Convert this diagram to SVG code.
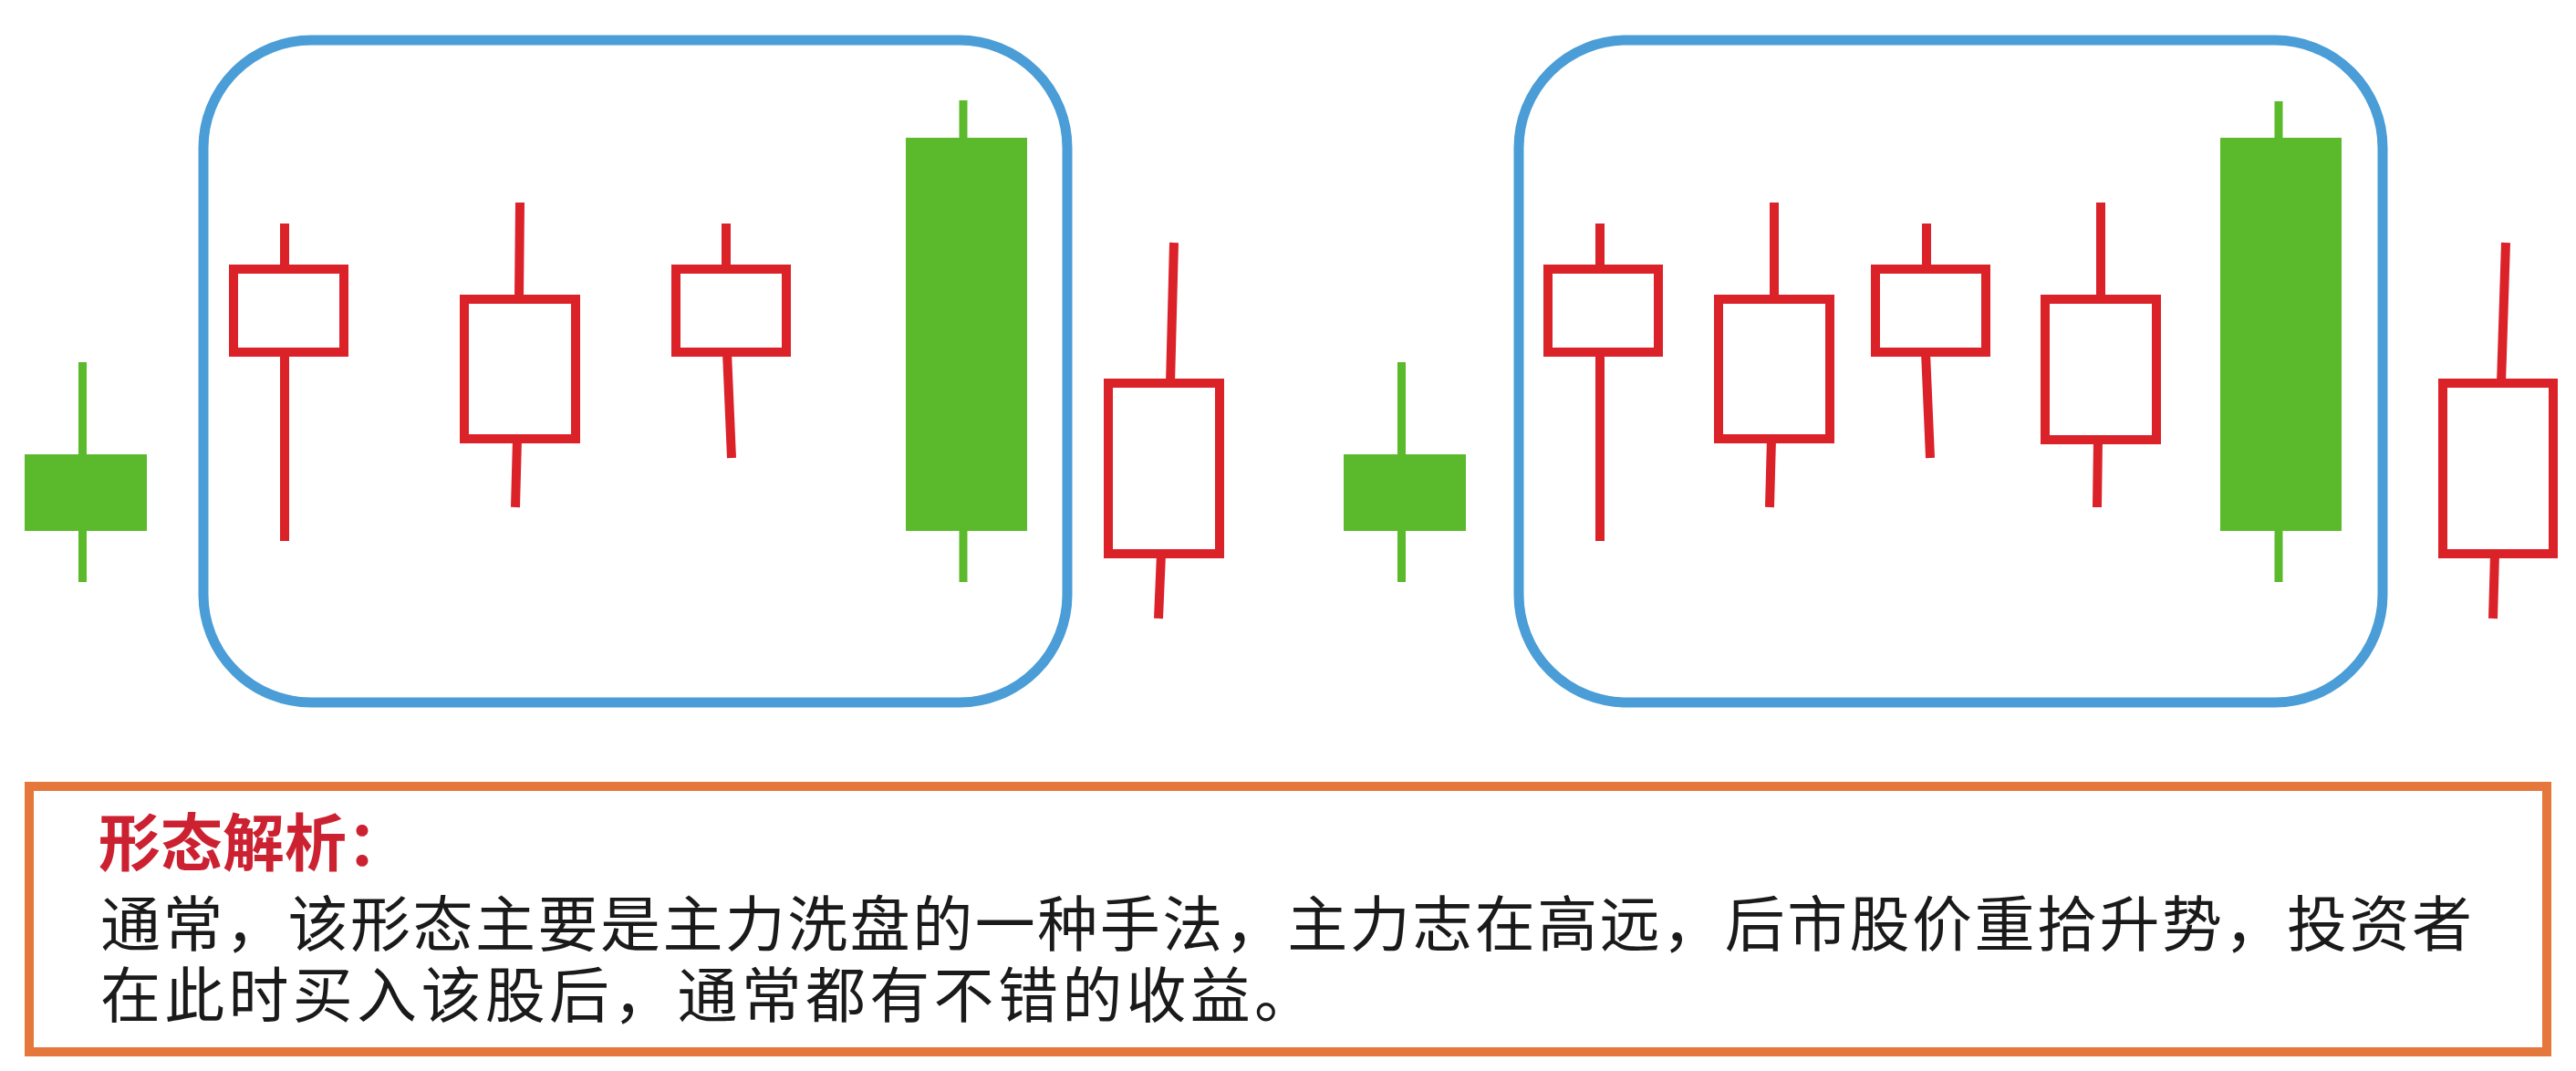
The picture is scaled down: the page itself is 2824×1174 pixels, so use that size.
<svg xmlns="http://www.w3.org/2000/svg" width="2824" height="1174" viewBox="0 0 2824 1174">
<style>
.bg{fill:#ffffff}
.frame{fill:none;stroke:#4a9dd6;stroke-width:11}
.panel{fill:none;stroke:#e5773d;stroke-width:10}
.rb{fill:none;stroke:#dc2229;stroke-width:10}
.rw{stroke:#dc2229;stroke-width:10;fill:none}
.gb{fill:#5bba2c}
.gw{stroke:#5bba2c;stroke-width:9;fill:none}
.title{font-family:"Noto Sans CJK SC","Noto Sans CJK TC",sans-serif;font-size:68px;font-weight:bold;fill:#cc2131}
.body{font-family:"Noto Sans CJK SC","Noto Sans CJK TC",sans-serif;font-size:66px;fill:#1a1a1a}
</style>
<rect class="bg" x="0" y="0" width="2824" height="1174"/>

<g id="frame-left"><rect class="frame" x="223" y="44" width="947" height="726" rx="118" ry="118"/></g>
<g id="frame-right"><rect class="frame" x="1665" y="44" width="947" height="726" rx="118" ry="118"/></g>

<g id="candle-g1">
  <line class="gw" x1="90.5" y1="397" x2="90.5" y2="638"/>
  <rect class="gb" x="27" y="498" width="134" height="84"/>
</g>
<g id="candle-r1">
  <line class="rw" x1="312" y1="245" x2="312" y2="295"/>
  <line class="rw" x1="312" y1="386" x2="312" y2="593"/>
  <rect class="rb" x="256" y="295" width="121" height="91"/>
</g>
<g id="candle-r2">
  <line class="rw" x1="570" y1="222" x2="569" y2="328"/>
  <line class="rw" x1="567" y1="481" x2="565" y2="556"/>
  <rect class="rb" x="509" y="328" width="122" height="153"/>
</g>
<g id="candle-r3">
  <line class="rw" x1="796" y1="245" x2="796" y2="295"/>
  <line class="rw" x1="797" y1="386" x2="802" y2="502"/>
  <rect class="rb" x="741" y="295" width="121" height="91"/>
</g>
<g id="candle-g2">
  <line class="gw" x1="1056" y1="110" x2="1056" y2="638"/>
  <rect class="gb" x="993" y="151" width="133" height="431"/>
</g>
<g id="candle-r4">
  <line class="rw" x1="1287" y1="266" x2="1283" y2="420"/>
  <line class="rw" x1="1273" y1="607" x2="1270" y2="678"/>
  <rect class="rb" x="1215" y="420" width="122" height="187"/>
</g>

<g id="candle-g3">
  <line class="gw" x1="1536.5" y1="397" x2="1536.5" y2="638"/>
  <rect class="gb" x="1473" y="498" width="134" height="84"/>
</g>
<g id="candle-r5">
  <line class="rw" x1="1754" y1="245" x2="1754" y2="295"/>
  <line class="rw" x1="1754" y1="386" x2="1754" y2="593"/>
  <rect class="rb" x="1697" y="295" width="121" height="91"/>
</g>
<g id="candle-r6">
  <line class="rw" x1="1945" y1="222" x2="1945" y2="328"/>
  <line class="rw" x1="1942" y1="481" x2="1940" y2="556"/>
  <rect class="rb" x="1884" y="328" width="122" height="153"/>
</g>
<g id="candle-r7">
  <line class="rw" x1="2112" y1="245" x2="2112" y2="295"/>
  <line class="rw" x1="2111" y1="386" x2="2116" y2="502"/>
  <rect class="rb" x="2056" y="295" width="121" height="91"/>
</g>
<g id="candle-r8">
  <line class="rw" x1="2303" y1="222" x2="2303" y2="328"/>
  <line class="rw" x1="2300" y1="482" x2="2299" y2="556"/>
  <rect class="rb" x="2242" y="328" width="122" height="154"/>
</g>
<g id="candle-g4">
  <line class="gw" x1="2498" y1="111" x2="2498" y2="638"/>
  <rect class="gb" x="2434" y="151" width="133" height="431"/>
</g>
<g id="candle-r9">
  <line class="rw" x1="2747" y1="266" x2="2742" y2="420"/>
  <line class="rw" x1="2735" y1="607" x2="2733" y2="678"/>
  <rect class="rb" x="2678" y="420" width="121" height="187"/>
</g>

<g id="analysis-panel">
  <rect class="panel" x="32" y="862" width="2760" height="291"/>
  <text class="title" x="108" y="949">形态解析：</text>
  <text class="body" x="110" y="1037" textLength="2600" lengthAdjust="spacing">通常，该形态主要是主力洗盘的一种手法，主力志在高远，后市股价重拾升势，投资者</text>
  <text class="body" x="110" y="1115" textLength="1331" lengthAdjust="spacing">在此时买入该股后，通常都有不错的收益。</text>
</g>
</svg>
